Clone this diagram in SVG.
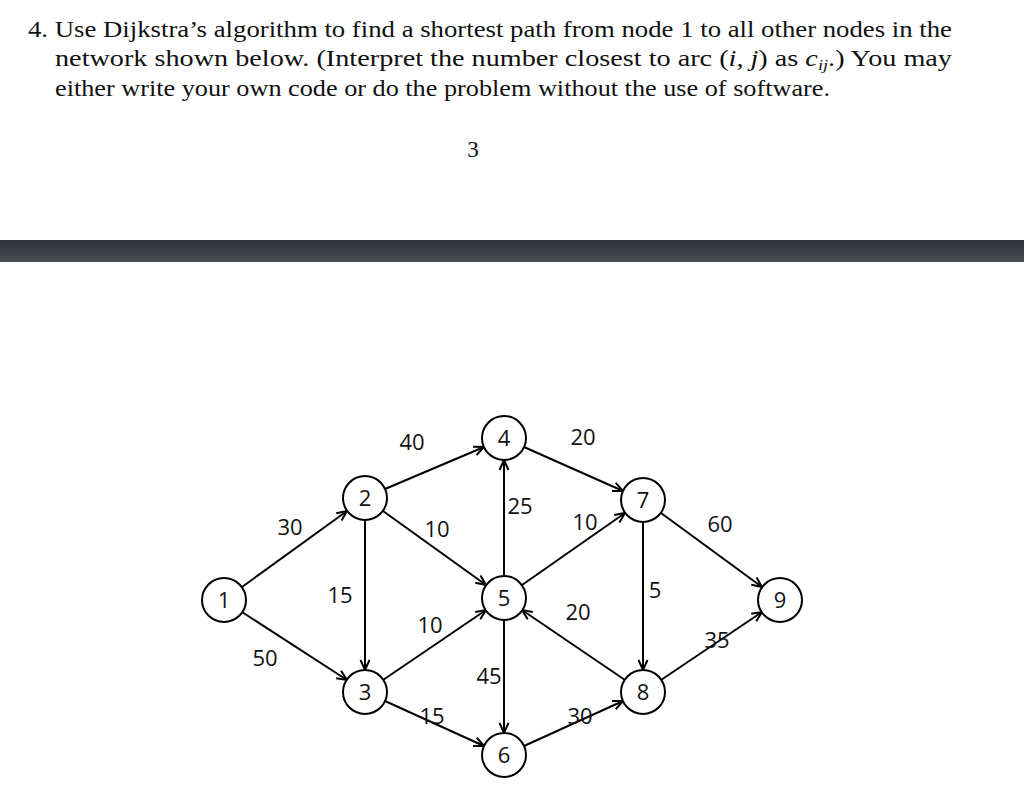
<svg xmlns="http://www.w3.org/2000/svg" width="1024" height="810" viewBox="0 0 1024 810">
<defs>
<marker id="ah" viewBox="0 0 12 12" refX="11" refY="6" markerWidth="12" markerHeight="12" markerUnits="userSpaceOnUse" orient="auto"><path d="M1,1.5 L11,6 L1,10.5" fill="none" stroke="#000" stroke-width="2"/></marker>
<linearGradient id="band" x1="0" y1="0" x2="0" y2="1"><stop offset="0" stop-color="#2f3236"/><stop offset="1" stop-color="#4a4e53"/></linearGradient>
</defs>
<style>
.t{font-family:"Liberation Serif","DejaVu Serif",serif;font-size:23px;fill:#111}
.n circle{fill:#fff;stroke:#000;stroke-width:2}
.n text,.w{font-family:"Open Sans","Liberation Sans",sans-serif;font-size:22px;fill:#111;text-anchor:middle}
#edges line{stroke:#000;stroke-width:2;marker-end:url(#ah)}
</style>
<rect width="1024" height="810" fill="#fff"/>
<text class="t" x="28" y="37" textLength="924" lengthAdjust="spacingAndGlyphs">4. Use Dijkstra’s algorithm to find a shortest path from node 1 to all other nodes in the</text>
<text class="t" x="55" y="66" textLength="897" lengthAdjust="spacingAndGlyphs">network shown below.  (Interpret the number closest to arc (<tspan font-style="italic">i, j</tspan>) as <tspan font-style="italic">c<tspan font-size="15" dy="4">ij</tspan></tspan><tspan dy="-4">.)  You may</tspan></text>
<text class="t" x="55" y="96" textLength="775" lengthAdjust="spacingAndGlyphs">either write your own code or do the problem without the use of software.</text>
<text class="t" x="473" y="157" text-anchor="middle">3</text>
<rect x="0" y="240" width="1024" height="22" fill="url(#band)"/>
<g id="edges">
<line x1="242" y1="587" x2="347" y2="511"/>
<line x1="242" y1="612" x2="347" y2="680"/>
<line x1="385" y1="489" x2="484" y2="447"/>
<line x1="383" y1="511" x2="486" y2="585"/>
<line x1="365" y1="520" x2="365" y2="670"/>
<line x1="383" y1="680" x2="486" y2="610"/>
<line x1="385" y1="701" x2="484" y2="746"/>
<line x1="504" y1="576" x2="504" y2="460"/>
<line x1="504" y1="620" x2="504" y2="733"/>
<line x1="524" y1="447" x2="623" y2="491"/>
<line x1="522" y1="585" x2="625" y2="513"/>
<line x1="625" y1="680" x2="522" y2="610"/>
<line x1="524" y1="746" x2="623" y2="701"/>
<line x1="643" y1="522" x2="643" y2="670"/>
<line x1="661" y1="513" x2="762" y2="587"/>
<line x1="661" y1="680" x2="762" y2="612"/>
</g>
<g id="weights">
<text class="w" x="412" y="450">40</text>
<text class="w" x="583" y="445">20</text>
<text class="w" x="290" y="535">30</text>
<text class="w" x="437" y="537">10</text>
<text class="w" x="520" y="514">25</text>
<text class="w" x="585" y="530">10</text>
<text class="w" x="720" y="532">60</text>
<text class="w" x="340" y="603">15</text>
<text class="w" x="578" y="620">20</text>
<text class="w" x="655" y="598">5</text>
<text class="w" x="430" y="633">10</text>
<text class="w" x="265" y="666">50</text>
<text class="w" x="717" y="648">35</text>
<text class="w" x="489" y="684">45</text>
<text class="w" x="432" y="724">15</text>
<text class="w" x="580" y="724">30</text>
</g>
<g id="n1" class="n"><circle cx="224" cy="600" r="22"/><text x="224" y="608">1</text></g>
<g id="n2" class="n"><circle cx="365" cy="498" r="22"/><text x="365" y="506">2</text></g>
<g id="n3" class="n"><circle cx="365" cy="692" r="22"/><text x="365" y="700">3</text></g>
<g id="n4" class="n"><circle cx="504" cy="438" r="22"/><text x="504" y="446">4</text></g>
<g id="n5" class="n"><circle cx="504" cy="598" r="22"/><text x="504" y="606">5</text></g>
<g id="n6" class="n"><circle cx="504" cy="755" r="22"/><text x="504" y="763">6</text></g>
<g id="n7" class="n"><circle cx="643" cy="500" r="22"/><text x="643" y="508">7</text></g>
<g id="n8" class="n"><circle cx="643" cy="692" r="22"/><text x="643" y="700">8</text></g>
<g id="n9" class="n"><circle cx="780" cy="600" r="22"/><text x="780" y="608">9</text></g>
</svg>
